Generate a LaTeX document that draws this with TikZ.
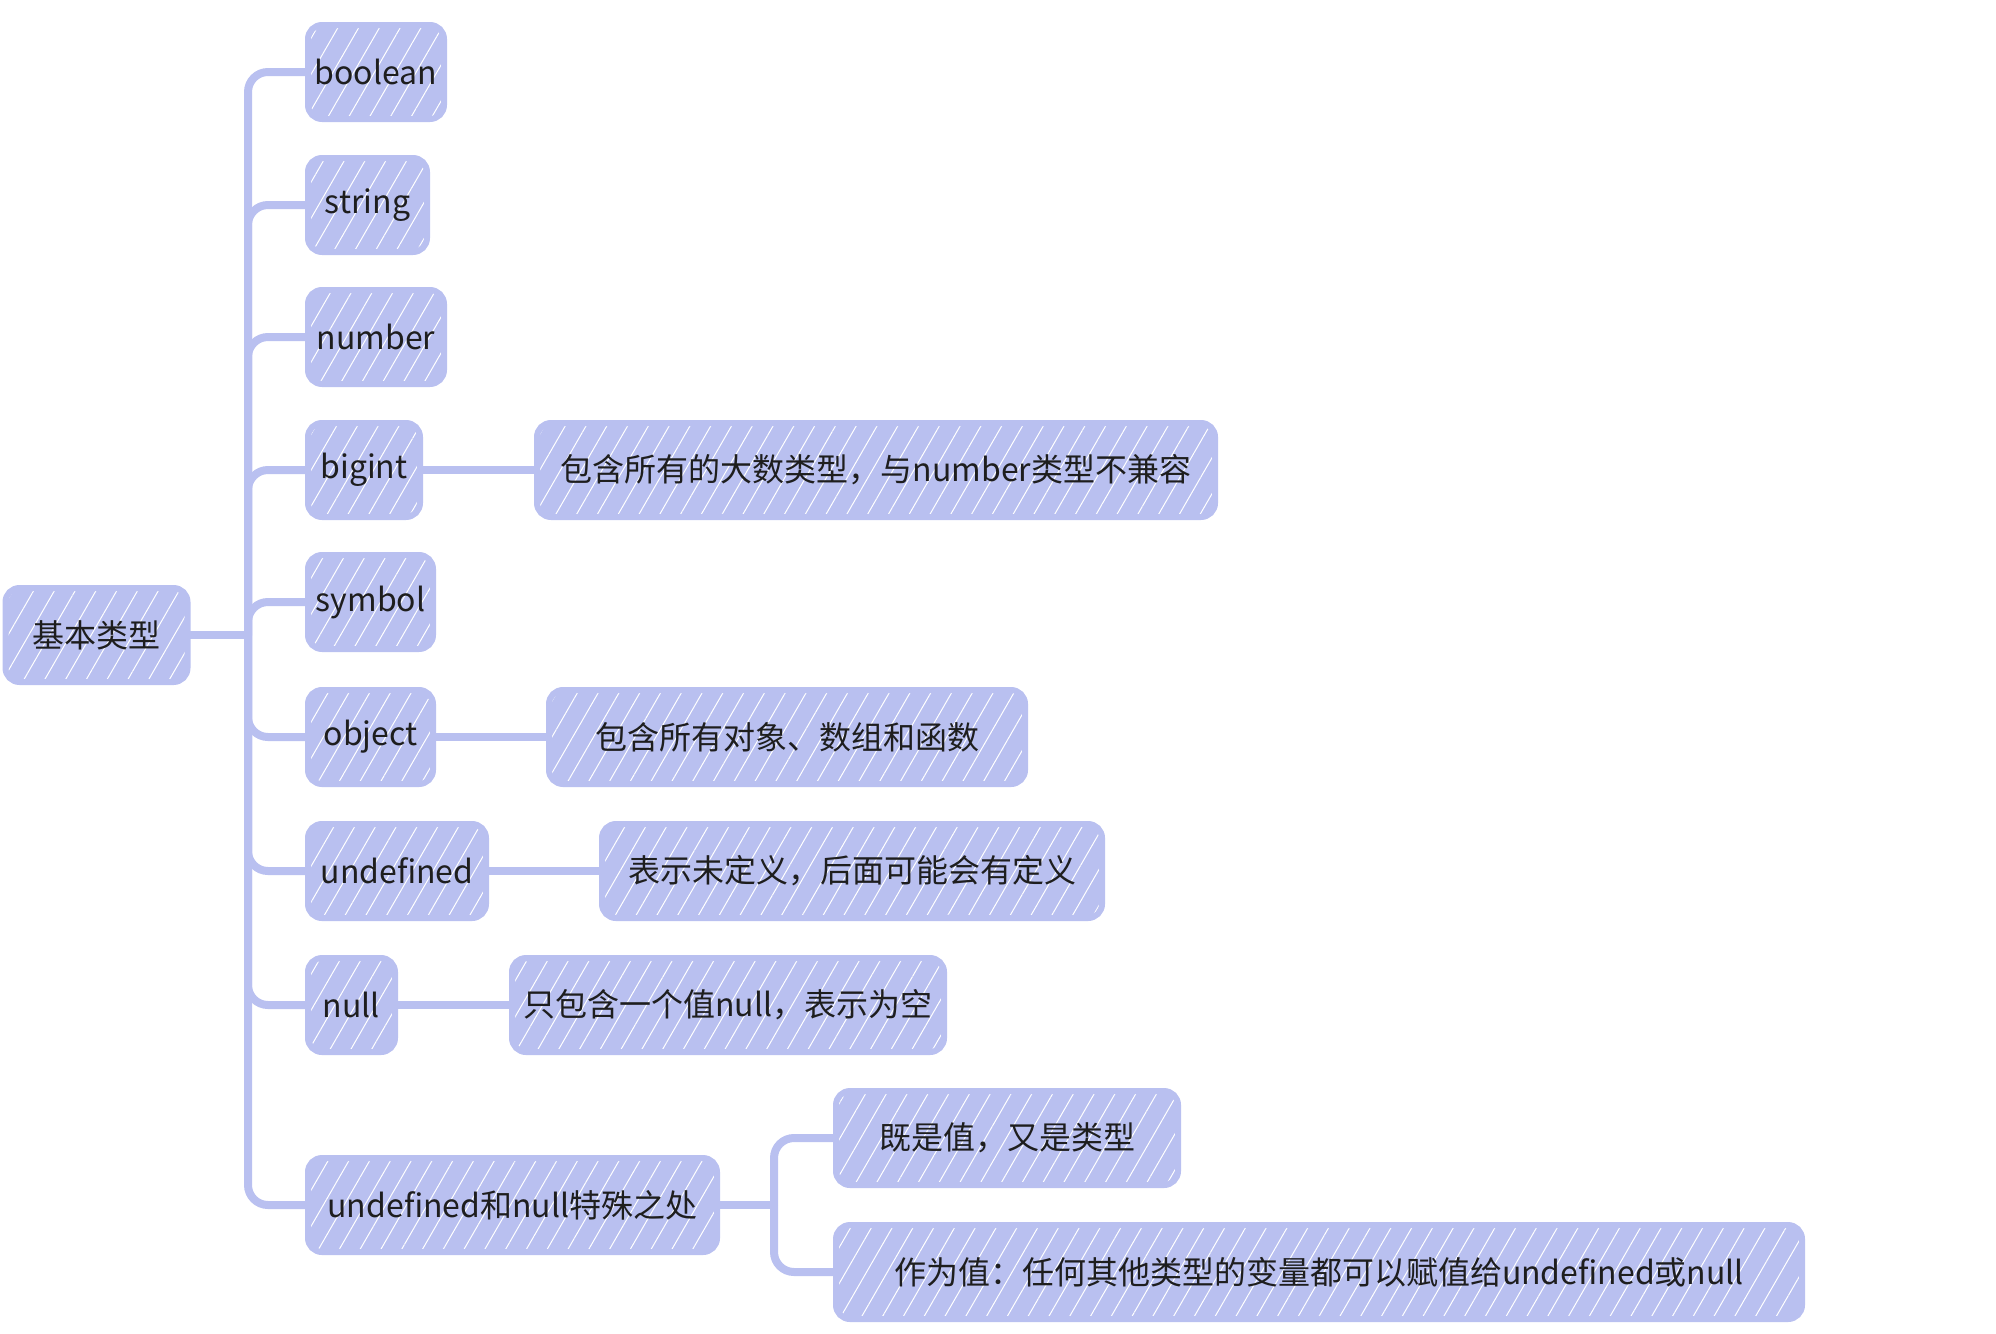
\documentclass[tikz,border=0pt]{standalone}
\usepackage{fontspec}
\setmainfont{Noto Sans CJK SC}
\usetikzlibrary{patterns.meta}
\definecolor{boxblue}{HTML}{B9C0F0}
\definecolor{ink}{HTML}{1E1E1E}
\tikzset{
  box/.style={draw=boxblue, line width=3pt, rounded corners=7pt,
    preaction={fill=boxblue}, pattern={Lines[angle=60, distance=9pt, line width=0.5pt]},
    pattern color=white, minimum height=47pt, inner sep=0pt, anchor=west,
    text=ink, font=\fontsize{16}{19}\selectfont},
  link/.style={draw=boxblue, line width=4pt, rounded corners=10pt}
}

\begin{document}
\begin{tikzpicture}[x=0.5pt, y=-0.5pt]

\useasboundingbox (0,0) rectangle (1996,1333);

\node at (5,635) [box, minimum width=91pt] (root) {基本类型};

\foreach \n/\t/\w/\y in {bool/boolean/142/72, str/string/125/205, num/number/142/337,
  big/bigint/118/470, sym/symbol/131/602, obj/object/131/737,
  undef/undefined/184/871, null/null/93/1005, spec/undefined和null特殊之处/415/1205}
  \node at (305,\y) [box, minimum width=\w*0.5pt-3pt] (\n) {\t};

\node at (534,470) [box, minimum width=339pt] (bigd) {包含所有的大数类型，与number类型不兼容};
\node at (546,737) [box, minimum width=238pt] (objd) {包含所有对象、数组和函数};
\node at (599,871) [box, minimum width=250pt] (undefd) {表示未定义，后面可能会有定义};
\node at (509,1005) [box, minimum width=216pt] (nulld) {只包含一个值null，表示为空};
\node at (833,1138) [box, minimum width=171pt] (both) {既是值，又是类型};
\node at (833,1272) [box, minimum width=483pt] (asval) {作为值：任何其他类型的变量都可以赋值给undefined或null};

\coordinate (fork) at (248,635);
\coordinate (fork2) at (774,1205);

\draw[link] (root.east) -- (fork);
\foreach \n in {bool, str, num, big, sym, obj, undef, null, spec}
  \draw[link] (fork) |- (\n.west);

\draw[link] (big.east) -- (bigd.west);
\draw[link] (obj.east) -- (objd.west);
\draw[link] (undef.east) -- (undefd.west);
\draw[link] (null.east) -- (nulld.west);

\draw[link] (spec.east) -- (fork2);
\draw[link] (fork2) |- (both.west);
\draw[link] (fork2) |- (asval.west);

\end{tikzpicture}
\end{document}
